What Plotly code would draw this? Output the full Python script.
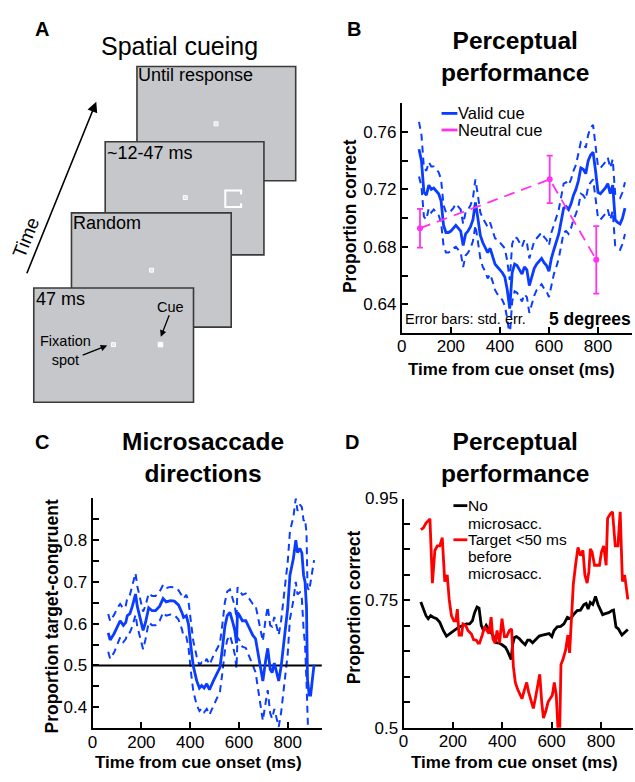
import plotly.graph_objects as go

# ---------------- data ----------------
# Panel B: perceptual performance, valid cue (mean and std. err.)
b_time = [70, 80, 90, 100, 110, 120, 130, 140, 150, 160, 170, 180, 190, 200, 210, 220, 230, 240, 250, 260,
          270, 280, 290, 300, 310, 320, 330, 340, 350, 360, 370, 380, 390, 400, 410, 420, 430, 440, 450, 460,
          470, 480, 490, 500, 510, 520, 530, 540, 550, 560, 570, 580, 590, 600, 610, 620, 630, 640, 650, 660,
          670, 680, 690, 700, 710, 720, 730, 740, 750, 760, 770, 780, 790, 800, 810, 820, 830, 840, 850, 860,
          870, 880, 890, 900, 910]
b_valid = [0.748, 0.740, 0.718, 0.716, 0.723, 0.720, 0.721, 0.719, 0.717, 0.712, 0.695, 0.690, 0.690, 0.691,
           0.693, 0.695, 0.693, 0.691, 0.681, 0.689, 0.691, 0.694, 0.699, 0.711, 0.700, 0.688, 0.683, 0.680,
           0.676, 0.679, 0.674, 0.668, 0.666, 0.664, 0.662, 0.659, 0.650, 0.637, 0.662, 0.668, 0.667, 0.664,
           0.661, 0.666, 0.664, 0.653, 0.660, 0.665, 0.668, 0.670, 0.672, 0.669, 0.667, 0.663, 0.672, 0.678,
           0.683, 0.689, 0.698, 0.707, 0.708, 0.706, 0.710, 0.716, 0.720, 0.726, 0.735, 0.734, 0.731, 0.740,
           0.744, 0.746, 0.733, 0.718, 0.717, 0.719, 0.721, 0.724, 0.717, 0.723, 0.699, 0.697, 0.696, 0.700,
           0.707]
b_valid_se = [0.019, 0.018, 0.017, 0.017, 0.016, 0.016, 0.015, 0.015, 0.015,
              0.015, 0.014, 0.014, 0.014, 0.014, 0.014, 0.015, 0.015, 0.015, 0.015, 0.015, 0.015, 0.015, 0.015,
              0.016, 0.016, 0.016, 0.017, 0.017, 0.018, 0.018, 0.018, 0.018, 0.019, 0.019, 0.019, 0.020, 0.020, 0.020,
              0.020, 0.019, 0.019, 0.019, 0.019, 0.019, 0.019, 0.019, 0.019, 0.019, 0.018, 0.018, 0.018, 0.018, 0.018, 0.018,
              0.018, 0.017, 0.017, 0.017, 0.017, 0.017, 0.017, 0.017, 0.017, 0.017, 0.017, 0.018, 0.018, 0.018, 0.018,
              0.018, 0.019, 0.019, 0.019, 0.018, 0.018, 0.018, 0.018, 0.018, 0.018, 0.018, 0.018, 0.018, 0.018, 0.018, 0.018]
# Panel B: neutral cue
b_neutral_time = [74, 603, 793]
b_neutral = [0.693, 0.727, 0.671]
b_neutral_se = [0.0135, 0.0165, 0.0235]

# Panel C: microsaccade directions (proportion target-congruent, mean and std. err.)
c_time = [64, 72, 88, 102, 113, 126, 136, 142, 153, 163, 176, 183, 194, 207, 217, 230, 244, 258, 275, 289,
          302, 319, 335, 352, 366, 373, 384, 393, 403, 413, 427, 438, 447, 457, 468, 479, 495, 508, 522, 533,
          542, 552, 563, 573, 583, 590, 594, 603, 614, 628, 641, 657, 668, 678, 691, 698, 709, 718, 728, 736,
          745, 755, 763, 773, 786, 800, 809, 823, 833, 840, 850, 858, 865, 871, 877, 881, 888, 894, 901, 908]
c_prop = [0.578, 0.561, 0.576, 0.596, 0.607, 0.596, 0.603, 0.619, 0.624, 0.642, 0.671, 0.642, 0.615, 0.584,
          0.603, 0.638, 0.631, 0.631, 0.642, 0.660, 0.652, 0.655, 0.654, 0.645, 0.627, 0.615, 0.619, 0.599,
          0.545, 0.498, 0.463, 0.446, 0.452, 0.446, 0.456, 0.442, 0.463, 0.479, 0.495, 0.545, 0.592, 0.619,
          0.627, 0.607, 0.584, 0.553, 0.627, 0.619, 0.607, 0.607, 0.592, 0.572, 0.564, 0.530, 0.483, 0.463,
          0.510, 0.541, 0.491, 0.483, 0.506, 0.483, 0.463, 0.498, 0.561, 0.638, 0.716, 0.755, 0.800, 0.770,
          0.780, 0.769, 0.716, 0.700, 0.638, 0.467, 0.429, 0.429, 0.467, 0.502]
c_se = [0.045, 0.045, 0.045, 0.042, 0.040, 0.040, 0.040, 0.042, 0.045, 0.048,
        0.050, 0.048, 0.045, 0.045, 0.040, 0.035, 0.035, 0.035, 0.035, 0.033,
        0.033, 0.033, 0.033, 0.035, 0.040, 0.045, 0.050, 0.055, 0.060, 0.060,
        0.058, 0.055, 0.055, 0.058, 0.060, 0.060, 0.060, 0.058, 0.058, 0.058,
        0.058, 0.058, 0.055, 0.055, 0.058, 0.060, 0.060, 0.060, 0.062, 0.065,
        0.070, 0.075, 0.080, 0.085, 0.090, 0.095, 0.100, 0.100, 0.105, 0.110,
        0.110, 0.110, 0.110, 0.110, 0.110, 0.110, 0.105, 0.100, 0.100, 0.100,
        0.105, 0.110, 0.130, 0.150, 0.180, 0.220, 0.250, 0.270, 0.260, 0.250]
c_chance = 0.5

# Panel D: perceptual performance, no microsaccade vs target <50 ms before microsaccade
d_time_none = [70, 80, 91, 100, 110, 120, 134, 147, 161, 174, 188, 201, 214, 228, 241, 255, 268, 279, 288, 298,
               306, 315, 324, 335, 348, 362, 375, 389, 399, 413, 422, 436, 442, 449, 458, 469, 480, 493, 503, 512,
               523, 536, 550, 563, 576, 590, 601, 610, 623, 637, 650, 664, 677, 690, 704, 717, 731, 740, 748, 757,
               767, 778, 788, 798, 807, 818, 831, 845, 851, 861, 871, 885, 896, 909]
d_none = [0.747, 0.733, 0.720, 0.714, 0.720, 0.717, 0.714, 0.707, 0.691, 0.680, 0.685, 0.691, 0.694, 0.698,
          0.701, 0.704, 0.704, 0.710, 0.726, 0.737, 0.735, 0.701, 0.691, 0.701, 0.691, 0.682, 0.667, 0.666,
          0.663, 0.658, 0.650, 0.634, 0.663, 0.677, 0.679, 0.675, 0.669, 0.663, 0.672, 0.672, 0.667, 0.673,
          0.680, 0.682, 0.683, 0.685, 0.679, 0.691, 0.698, 0.699, 0.704, 0.717, 0.714, 0.723, 0.730, 0.731,
          0.742, 0.744, 0.733, 0.746, 0.742, 0.758, 0.742, 0.730, 0.722, 0.724, 0.726, 0.730, 0.731, 0.698,
          0.694, 0.682, 0.688, 0.693]
d_time_pre = [70, 80, 91, 107, 117, 127, 137, 147, 157, 167, 177, 185, 194, 204, 212, 218, 225, 235, 241, 252,
              261, 275, 284, 295, 302, 308, 319, 328, 338, 346, 355, 362, 371, 379, 389, 399, 409, 418, 429, 438,
              445, 453, 462, 472, 480, 489, 499, 507, 516, 526, 534, 543, 552, 560, 567, 576, 586, 594, 603, 611,
              619, 626, 633, 638, 646, 657, 666, 673, 681, 688, 697, 707, 717, 727, 735, 744, 751, 757, 764, 774,
              784, 794, 802, 811, 821, 827, 838, 847, 858, 869, 878, 887, 896, 909]
d_pre = [0.889, 0.892, 0.902, 0.910, 0.784, 0.848, 0.857, 0.857, 0.873, 0.787, 0.800, 0.752, 0.720, 0.710,
         0.710, 0.733, 0.682, 0.682, 0.704, 0.701, 0.691, 0.684, 0.673, 0.672, 0.666, 0.666, 0.682, 0.698,
         0.691, 0.685, 0.717, 0.675, 0.666, 0.691, 0.666, 0.714, 0.679, 0.679, 0.691, 0.694, 0.621, 0.589,
         0.576, 0.564, 0.557, 0.573, 0.589, 0.570, 0.554, 0.538, 0.557, 0.583, 0.605, 0.551, 0.519, 0.532,
         0.551, 0.557, 0.564, 0.589, 0.564, 0.497, 0.497, 0.624, 0.634, 0.653, 0.682, 0.647, 0.720, 0.781,
         0.819, 0.854, 0.838, 0.848, 0.800, 0.784, 0.806, 0.851, 0.845, 0.819, 0.819, 0.819, 0.845, 0.857,
         0.819, 0.911, 0.920, 0.924, 0.857, 0.857, 0.924, 0.787, 0.800, 0.752]

# tick labels
x_tickvals = [0, 200, 400, 600, 800]
x_ticktext = ["0", "200", "400", "600", "800"]
b_yticks = [0.62, 0.64, 0.66, 0.68, 0.70, 0.72, 0.74, 0.76, 0.78]
b_ytext = ["", "0.64", "", "0.68", "", "0.72", "", "0.76", ""]
c_yticks = [0.35, 0.40, 0.45, 0.50, 0.55, 0.60, 0.65, 0.70, 0.75, 0.80, 0.85, 0.90]
c_ytext = ["", "0.4", "", "0.5", "", "0.6", "", "0.7", "", "0.8", "", ""]
d_yticks = [0.50, 0.55, 0.60, 0.65, 0.70, 0.75, 0.80, 0.85, 0.90, 0.95]
d_ytext = ["0.5", "", "", "", "", "0.75", "", "", "", "0.95"]

# ---------------- style ----------------
W, H = 635, 782
FONT = "Arial, 'Liberation Sans', Helvetica, sans-serif"
BLUE = "#0a3dff"
MAGENTA = "#ff33ee"
RED = "#ff0000"
GRAY = "#c5c7ca"
EDGE = "#3a3a3a"
BAND_DASH = "7px,5px"


def X(px):
    return px / W


def Y(py):
    return 1 - py / H


fig = go.Figure()

# ---- Panel B ----
b_upper = [v + s for v, s in zip(b_valid, b_valid_se)]
b_lower = [v - s for v, s in zip(b_valid, b_valid_se)]
for band in (b_upper, b_lower):
    fig.add_trace(go.Scatter(x=b_time, y=band, mode="lines", xaxis="x", yaxis="y",
                             line=dict(color=BLUE, width=2, dash=BAND_DASH), hoverinfo="skip"))
fig.add_trace(go.Scatter(x=b_time, y=b_valid, mode="lines", xaxis="x", yaxis="y", name="Valid cue",
                         line=dict(color=BLUE, width=2.8)))
fig.add_trace(go.Scatter(x=b_neutral_time, y=b_neutral, mode="lines+markers", xaxis="x", yaxis="y",
                         name="Neutral cue", line=dict(color=MAGENTA, width=1.8, dash="11px,7px"),
                         marker=dict(color=MAGENTA, size=6),
                         error_y=dict(type="data", array=b_neutral_se, color=MAGENTA, thickness=1.8, width=3)))

# ---- Panel C ----
c_upper = [v + s for v, s in zip(c_prop, c_se)]
c_lower = [v - s for v, s in zip(c_prop, c_se)]
for band in (c_upper, c_lower):
    fig.add_trace(go.Scatter(x=c_time, y=band, mode="lines", xaxis="x2", yaxis="y2",
                             line=dict(color=BLUE, width=2, dash=BAND_DASH), hoverinfo="skip"))
fig.add_trace(go.Scatter(x=[0, 940], y=[c_chance, c_chance], mode="lines", xaxis="x2", yaxis="y2",
                         line=dict(color="black", width=2)))
fig.add_trace(go.Scatter(x=c_time, y=c_prop, mode="lines", xaxis="x2", yaxis="y2",
                         line=dict(color=BLUE, width=2.8)))

# ---- Panel D ----
fig.add_trace(go.Scatter(x=d_time_none, y=d_none, mode="lines", xaxis="x3", yaxis="y3",
                         name="No microsacc.", line=dict(color="black", width=2.8)))
fig.add_trace(go.Scatter(x=d_time_pre, y=d_pre, mode="lines", xaxis="x3", yaxis="y3",
                         name="Target <50 ms before microsacc.", line=dict(color=RED, width=2.8)))

axis_common = dict(showline=True, linecolor="black", linewidth=2, ticks="inside", ticklen=6, tickwidth=2,
                   tickcolor="black", showgrid=False, zeroline=False, mirror=False,
                   tickfont=dict(family=FONT, size=17, color="black"), tickmode="array")
x_common = dict(axis_common, ticklabelstandoff=-3)

fig.update_layout(
    width=W, height=H, margin=dict(l=0, r=0, t=0, b=0), showlegend=False,
    paper_bgcolor="white", plot_bgcolor="rgba(0,0,0,0)", font=dict(family=FONT, color="black"),
    xaxis=dict(domain=[X(400), X(632.3)], range=[0, 940], anchor="y", tickvals=x_tickvals,
               ticktext=x_ticktext, **x_common),
    yaxis=dict(domain=[Y(332.1), Y(96.6)], range=[0.62, 0.78], anchor="x", tickvals=b_yticks,
               ticktext=b_ytext, **axis_common),
    xaxis2=dict(domain=[X(88.3), X(319.4)], range=[0, 940], anchor="y2", tickvals=x_tickvals,
                ticktext=x_ticktext, **x_common),
    yaxis2=dict(domain=[Y(737.1), Y(501.45)], range=[0.35, 0.9], anchor="x2", tickvals=c_yticks,
                ticktext=c_ytext, **axis_common),
    xaxis3=dict(domain=[X(401.7), X(633)], range=[0, 930], anchor="y3", tickvals=x_tickvals,
                ticktext=x_ticktext, **x_common),
    yaxis3=dict(domain=[Y(736.7), Y(501.7)], range=[0.5, 0.95], anchor="x3", tickvals=d_yticks,
                ticktext=d_ytext, **axis_common),
)

shapes = []
ann = []


def text(x, y, s, size, xanchor="center", angle=0, bold=False):
    if bold:
        s = "<br>".join("<b>%s</b>" % part for part in s.split("<br>"))
    ann.append(dict(x=X(x), y=Y(y), xref="paper", yref="paper", text=s, align="center",
                    showarrow=False, xanchor=xanchor, yanchor="middle", textangle=angle, borderpad=0,
                    font=dict(family=FONT, size=size, color="black")))


def hline(x0, x1, y, color, width):
    shapes.append(dict(type="line", xref="paper", yref="paper", x0=X(x0), x1=X(x1), y0=Y(y), y1=Y(y),
                       line=dict(color=color, width=width)))


# ---- Panel A schematic ----
frames = [(133, 59, 293, 176), (101, 136, 261, 252), (67, 209, 228, 326), (29, 286, 190, 403)]
spots = [(212.7, 117.7), (181.7, 193.3), (147.7, 267.7), (109.3, 344)]
for i, (fx0, fy0, fx1, fy1) in enumerate(frames):
    shapes.append(dict(type="rect", xref="paper", yref="paper", x0=X(fx0), x1=X(fx1), y0=Y(fy1), y1=Y(fy0),
                       fillcolor=GRAY, line=dict(color=EDGE, width=1.6), layer="above"))
    sx, sy = spots[i]
    shapes.append(dict(type="rect", xref="paper", yref="paper", x0=X(sx - 2), x1=X(sx + 2), y0=Y(sy + 2),
                       y1=Y(sy - 2), fillcolor="#e6e6e6", line=dict(color="white", width=1), layer="above"))
    if i == 1:
        pts = [(238, 190), (238, 186), (222, 186), (222, 203), (238, 203), (238, 199)]
        path = "M" + " L".join("%f,%f" % (X(a), Y(b)) for a, b in pts)
        shapes.append(dict(type="path", xref="paper", yref="paper", path=path,
                           line=dict(color="white", width=2), layer="above"))
# cue
shapes.append(dict(type="rect", xref="paper", yref="paper", x0=X(154.2), x1=X(159.2), y0=Y(346.5), y1=Y(341.5),
                   fillcolor="white", line=dict(color="white", width=0.5), layer="above"))

text(37, 21, "A", 20, bold=True)
text(176, 38, "Spatial cueing", 25)
text(133, 68, "Until response", 18, xanchor="left")
text(102, 148, "~12-47 ms", 18, xanchor="left")
text(68, 219, "Random", 18, xanchor="left")
text(30, 297, "47 ms", 18, xanchor="left")
text(167, 305, "Cue", 14.5)
text(61, 350, "Fixation<br>spot", 14.5)
text(21, 234, "Time", 19, angle=-68)


def arrow(hx, hy, tx, ty, size=1.0, width=1.5):
    ann.append(dict(x=X(hx), y=Y(hy), xref="paper", yref="paper", ax=tx - hx, ay=ty - hy,
                    axref="pixel", ayref="pixel", text="", showarrow=True, arrowhead=2, arrowsize=size,
                    arrowwidth=width, arrowcolor="black"))


arrow(92, 95, 22, 268, size=1.3, width=1.6)
arrow(157, 336, 166, 313, size=1.0, width=1.3)
arrow(103, 345, 77, 355, size=1.0, width=1.3)

# ---- Panel B texts ----
text(352, 21, "B", 20, bold=True)
text(514, 48.5, "Perceptual<br>performance", 24.5, bold=True)
text(348, 212, "Proportion correct", 17.5, angle=-90, bold=True)
text(511, 369, "Time from cue onset (ms)", 17, bold=True)
text(402, 318, "Error bars: std. err.", 14.5, xanchor="left")
text(547, 318, "5 degrees", 17.5, xanchor="left", bold=True)
hline(440, 456, 107, BLUE, 2.8)
text(456, 107, "Valid cue", 16.5, xanchor="left")
hline(440, 456, 124, MAGENTA, 2.8)
text(456, 124, "Neutral cue", 16.5, xanchor="left")

# ---- Panel C texts ----
text(37, 444, "C", 20, bold=True)
text(200, 459.5, "Microsaccade<br>directions", 24.5, bold=True)
text(47, 623, "Proportion target-congruent", 17.5, angle=-90, bold=True)
text(195, 772.5, "Time from cue onset (ms)", 17, bold=True)

# ---- Panel D texts ----
text(350, 444, "D", 20, bold=True)
text(514, 460, "Perceptual<br>performance", 24.5, bold=True)
text(352, 613, "Proportion correct", 17.5, angle=-90, bold=True)
text(514, 772.5, "Time from cue onset (ms)", 17, bold=True)
hline(452, 466, 509, "black", 2.8)
text(466, 509, "No", 15.5, xanchor="left")
text(466, 527, "microsacc.", 15.5, xanchor="left")
hline(452, 466, 544, RED, 2.8)
text(466, 544, "Target <50 ms", 15.5, xanchor="left")
text(466, 561.5, "before", 15.5, xanchor="left")
text(466, 579, "microsacc.", 15.5, xanchor="left")

fig.update_layout(shapes=shapes, annotations=ann)
fig.write_html("out.html", config={"displayModeBar": False, "staticPlot": True},
               post_script="document.body.style.margin='0px';document.body.style.overflow='hidden';")
